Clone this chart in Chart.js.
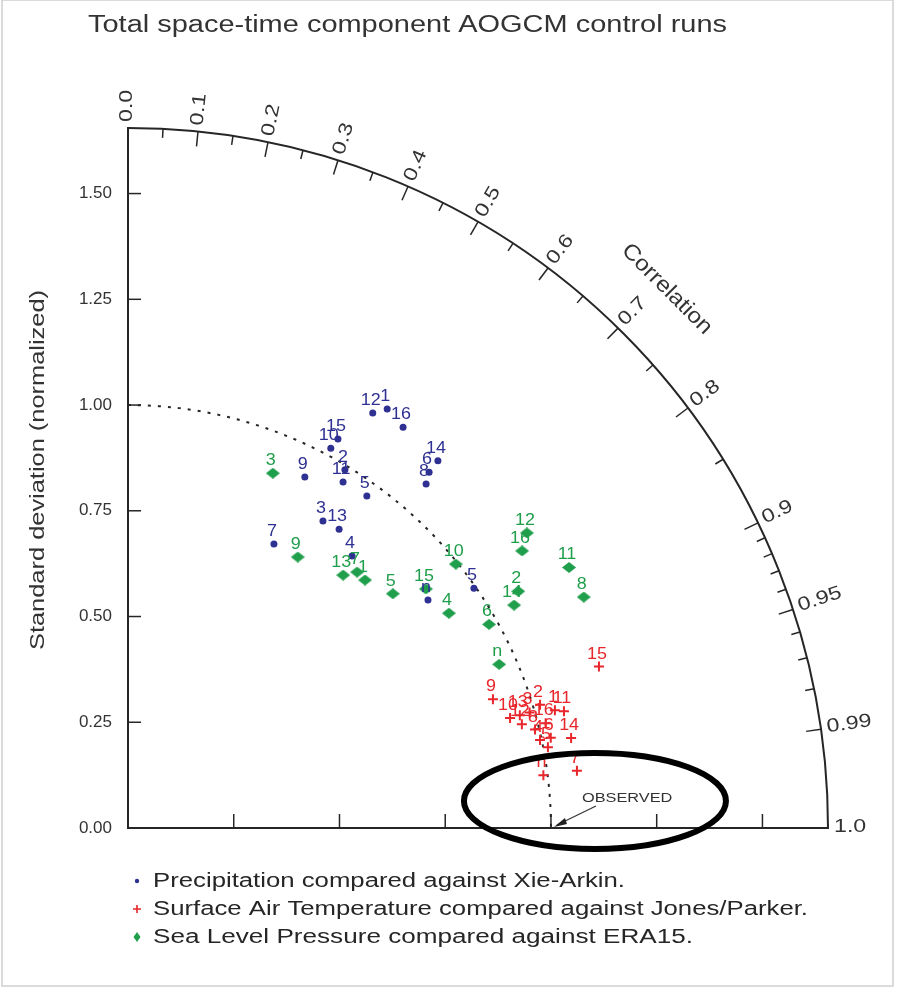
<!DOCTYPE html>
<html>
<head>
<meta charset="utf-8">
<script src="https://cdn.jsdelivr.net/npm/chart.js@4.4.0/dist/chart.umd.min.js"></script>
<style>
  html, body { margin: 0; padding: 0; background: #fff; }
  canvas { display: block; }
</style>
</head>
<body>
<canvas id="taylor" width="899" height="989"></canvas>
<script>
// axis values
var maxSd = 1.655;
var sdTicks = [0, 0.25, 0.5, 0.75, 1.0, 1.25, 1.5];
var xTicks = [0.25, 0.5, 0.75, 1.0, 1.25, 1.5];
var corrLabels = ['0.0', '0.1', '0.2', '0.3', '0.4', '0.5', '0.6', '0.7', '0.8', '0.9', '0.95', '0.99', '1.0'];
var corrMinor = [0.05, 0.15, 0.25, 0.35, 0.45, 0.55, 0.65, 0.75, 0.85, 0.91, 0.92, 0.93, 0.94, 0.96, 0.97, 0.98];

// Precipitation vs Xie-Arkin
var precipModels = ['12', '1', '16', '15', '10', '9', '2', '11', '5', '14', '6', '8', '3', '13', '7', '4', 'n', '5'];
var precipSd =   [1.139, 1.165, 1.149, 1.045, 1.018, 0.929, 0.990, 0.963, 0.967, 1.136, 1.102, 1.076, 0.860, 0.865, 0.755, 0.833, 0.891, 0.995];
var precipCorr = [0.508, 0.526, 0.566, 0.475, 0.471, 0.450, 0.518, 0.528, 0.584, 0.645, 0.646, 0.655, 0.536, 0.577, 0.457, 0.636, 0.796, 0.822];

// Surface air temperature vs Jones/Parker
var satModels = ['15', '9', '14', '7', 'n', '10', '13', '3', '12', '2', '1', '11', '16', '8', '4', '6', '5'];
var satSd =   [1.177, 0.915, 1.069, 1.070, 0.990, 0.940, 0.964, 0.988, 0.963, 1.017, 1.047, 1.067, 1.018, 0.990, 0.996, 1.022, 1.011];
var satCorr = [0.946, 0.943, 0.980, 0.992, 0.992, 0.961, 0.961, 0.961, 0.967, 0.958, 0.964, 0.966, 0.970, 0.972, 0.978, 0.978, 0.982];

// Sea level pressure vs ERA15
var slpModels = ['3', '9', '13', '7', '1', '5', '15', '4', '10', '12', '16', '11', '8', '2', '14', '6', 'n'];
var slpSd =   [0.906, 0.756, 0.785, 0.812, 0.811, 0.836, 0.903, 0.913, 0.995, 1.173, 1.139, 1.211, 1.208, 1.079, 1.054, 0.980, 0.959];
var slpCorr = [0.378, 0.531, 0.648, 0.667, 0.691, 0.749, 0.780, 0.831, 0.779, 0.804, 0.818, 0.861, 0.892, 0.855, 0.866, 0.871, 0.915];

var legendTexts = ['Precipitation compared against Xie-Arkin.',
                   'Surface Air Temperature compared against Jones/Parker.',
                   'Sea Level Pressure compared against ERA15.'];

var BLUE = '#2f3192', RED = '#e8262b', GREEN = '#1f9e4b', INK = '#262626';
var FONT = '"Liberation Sans", Arial, Helvetica, sans-serif';

// polar (sd, corr) -> cartesian points
function toPoints(sd, corr) {
  return sd.map(function(s, i) {
    var r = corr[i];
    return { x: s * r, y: s * Math.sqrt(1 - r * r) };
  });
}

function diamond(color, w, h) {
  var c = document.createElement('canvas');
  c.width = w; c.height = h;
  var g = c.getContext('2d');
  g.fillStyle = color;
  g.beginPath();
  g.moveTo(w / 2, 0); g.lineTo(w, h / 2); g.lineTo(w / 2, h); g.lineTo(0, h / 2);
  g.closePath(); g.fill();
  return c;
}

// text stretched horizontally (the source lettering is wide)
function wideText(ctx, text, x, y, sx) {
  ctx.save();
  ctx.translate(x, y);
  ctx.scale(sx, 1);
  ctx.fillText(text, 0, 0);
  ctx.restore();
}

var taylorFrame = {
  id: 'taylorFrame',
  beforeDatasetsDraw: function(chart) {
    var ctx = chart.ctx;
    var xs = chart.scales.x, ys = chart.scales.y;
    var cx = xs.getPixelForValue(0), cy = ys.getPixelForValue(0);
    var rad = xs.getPixelForValue(maxSd) - cx;
    var r1 = xs.getPixelForValue(1) - cx;

    ctx.save();
    ctx.strokeStyle = INK;
    ctx.lineWidth = 2;

    // outer correlation arc
    ctx.beginPath();
    ctx.arc(cx, cy, rad, -Math.PI / 2, 0);
    ctx.stroke();

    // dotted reference arc (sd = 1)
    ctx.save();
    ctx.setLineDash([3, 7]);
    ctx.beginPath();
    ctx.arc(cx, cy, r1, -Math.PI / 2, 0);
    ctx.stroke();
    ctx.restore();

    // inward ticks on the sd axes
    ctx.lineWidth = 1.5;
    sdTicks.forEach(function(v) {
      if (v === 0) return;
      var py = ys.getPixelForValue(v);
      ctx.beginPath(); ctx.moveTo(cx, py); ctx.lineTo(cx + 13, py); ctx.stroke();
    });
    xTicks.forEach(function(v) {
      var px = xs.getPixelForValue(v);
      ctx.beginPath(); ctx.moveTo(px, cy); ctx.lineTo(px, cy - 14); ctx.stroke();
    });

    // correlation ticks
    function radTick(r, len) {
      var t = Math.acos(r);
      ctx.beginPath();
      ctx.moveTo(cx + rad * Math.cos(t), cy - rad * Math.sin(t));
      ctx.lineTo(cx + (rad - len) * Math.cos(t), cy - (rad - len) * Math.sin(t));
      ctx.stroke();
    }
    corrLabels.forEach(function(l) {
      var r = parseFloat(l);
      if (r > 0 && r < 1) radTick(r, 15);
    });
    corrMinor.forEach(function(r) { radTick(r, 9); });

    // correlation labels, radial, sitting on the ray
    ctx.fillStyle = '#333';
    ctx.font = '19px ' + FONT;
    ctx.textAlign = 'left';
    ctx.textBaseline = 'alphabetic';
    corrLabels.forEach(function(l) {
      var t = Math.acos(parseFloat(l));
      ctx.save();
      ctx.translate(cx + (rad + 6) * Math.cos(t), cy - (rad + 6) * Math.sin(t));
      ctx.rotate(-t);
      wideText(ctx, l, 0, 4, 1.22);
      ctx.restore();
    });

    // "Correlation" title along the arc
    var tc = Math.PI / 4;
    ctx.save();
    ctx.translate(cx + (rad + 62) * Math.cos(tc), cy - (rad + 62) * Math.sin(tc));
    ctx.rotate(Math.PI / 2 - tc);
    ctx.font = '22px ' + FONT;
    ctx.textAlign = 'center';
    ctx.textBaseline = 'middle';
    wideText(ctx, 'Correlation', 0, 0, 1.1);
    ctx.restore();

    // y axis title
    ctx.save();
    ctx.translate(38, 470);
    ctx.rotate(-Math.PI / 2);
    ctx.font = '20px ' + FONT;
    ctx.textAlign = 'center';
    ctx.textBaseline = 'middle';
    wideText(ctx, 'Standard deviation (normalized)', 0, 0, 1.27);
    ctx.restore();

    ctx.restore();
  },
  afterDatasetsDraw: function(chart) {
    var ctx = chart.ctx;
    var xs = chart.scales.x, ys = chart.scales.y;
    var names = [precipModels, satModels, slpModels];
    var colors = [BLUE, RED, GREEN];

    ctx.save();
    ctx.font = '16px ' + FONT;
    ctx.textAlign = 'center';
    ctx.textBaseline = 'alphabetic';
    chart.data.datasets.forEach(function(ds, di) {
      var meta = chart.getDatasetMeta(di);
      ctx.fillStyle = colors[di];
      meta.data.forEach(function(el, i) {
        wideText(ctx, names[di][i], el.x - 2, el.y - 8, 1.12);
      });
    });

    // OBSERVED annotation
    var ox = xs.getPixelForValue(1), oy = ys.getPixelForValue(0);
    ctx.save();
    ctx.font = '12px ' + FONT;
    ctx.fillStyle = '#333';
    ctx.textAlign = 'left';
    wideText(ctx, 'OBSERVED', 582, 802, 1.36);
    ctx.restore();
    ctx.strokeStyle = '#333';
    ctx.lineWidth = 1.2;
    ctx.beginPath(); ctx.moveTo(596, 806); ctx.lineTo(ox + 6, oy - 3); ctx.stroke();
    ctx.fillStyle = '#222';
    ctx.beginPath();
    ctx.moveTo(ox + 3, oy - 1);
    ctx.lineTo(ox + 14, oy - 10);
    ctx.lineTo(ox + 16, oy - 4);
    ctx.closePath(); ctx.fill();

    // highlight ellipse
    ctx.strokeStyle = '#000';
    ctx.lineWidth = 6;
    ctx.beginPath();
    ctx.ellipse(xs.getPixelForValue(1.104), ys.getPixelForValue(0.064), 131, 48, 0, 0, Math.PI * 2);
    ctx.stroke();
    ctx.restore();
  },
  afterDraw: function(chart) {
    var ctx = chart.ctx;
    ctx.save();
    ctx.textBaseline = 'middle';
    ctx.textAlign = 'left';

    // title
    ctx.fillStyle = '#333';
    ctx.font = '23px ' + FONT;
    var tw = ctx.measureText('Total space-time component AOGCM control runs').width;
    wideText(ctx, 'Total space-time component AOGCM control runs', 88, 26, 639 / tw);

    // legend
    var rows = [881, 909, 937];
    var widths = [472, 655, 540];
    ctx.font = '20px ' + FONT;
    ctx.fillStyle = INK;
    legendTexts.forEach(function(t, i) {
      wideText(ctx, t, 153, rows[i], widths[i] / ctx.measureText(t).width);
    });
    ctx.fillStyle = BLUE;
    ctx.beginPath(); ctx.arc(137, rows[0], 2.2, 0, Math.PI * 2); ctx.fill();
    ctx.strokeStyle = RED; ctx.lineWidth = 1.6;
    ctx.beginPath();
    ctx.moveTo(133, rows[1]); ctx.lineTo(141, rows[1]);
    ctx.moveTo(137, rows[1] - 4); ctx.lineTo(137, rows[1] + 4);
    ctx.stroke();
    ctx.fillStyle = GREEN;
    ctx.beginPath();
    ctx.moveTo(137, rows[2] - 5); ctx.lineTo(140.5, rows[2]); ctx.lineTo(137, rows[2] + 5); ctx.lineTo(133.5, rows[2]);
    ctx.closePath(); ctx.fill();

    // picture frame
    ctx.strokeStyle = '#cfcfcf';
    ctx.lineWidth = 1.5;
    ctx.strokeRect(2, 0, 891, 986);
    ctx.restore();
  }
};

var axisFont = { family: FONT, size: 17 };

new Chart(document.getElementById('taylor').getContext('2d'), {
  type: 'scatter',
  data: {
    datasets: [{
      label: legendTexts[0],
      data: toPoints(precipSd, precipCorr),
      pointStyle: 'circle',
      pointRadius: 3.5,
      backgroundColor: BLUE,
      borderColor: BLUE,
      borderWidth: 0
    }, {
      label: legendTexts[1],
      data: toPoints(satSd, satCorr),
      pointStyle: 'cross',
      pointRadius: 5,
      borderColor: RED,
      borderWidth: 2
    }, {
      label: legendTexts[2],
      data: toPoints(slpSd, slpCorr),
      pointStyle: diamond(GREEN, 14, 11),
      pointRadius: 6
    }]
  },
  options: {
    responsive: false,
    animation: false,
    layout: { padding: { top: 128, right: 71, left: 0, bottom: 0 } },
    plugins: {
      legend: { display: false },
      tooltip: { enabled: false },
      title: { display: false }
    },
    scales: {
      x: {
        type: 'linear', min: 0, max: maxSd,
        grid: { display: false, drawTicks: false },
        border: { display: true, color: INK, width: 2 },
        ticks: { display: false },
        afterFit: function(s) { s.height = 161; }
      },
      y: {
        type: 'linear', min: 0, max: maxSd,
        afterBuildTicks: function(s) { s.ticks = sdTicks.map(function(v) { return { value: v }; }); },
        grid: { display: false, drawTicks: false },
        border: { display: true, color: INK, width: 2 },
        ticks: {
          font: axisFont, color: '#333', padding: 16,
          callback: function(v) { return v.toFixed(2); }
        },
        title: { display: false },
        afterFit: function(s) { s.width = 128; }
      }
    }
  },
  plugins: [taylorFrame]
});
</script>
</body>
</html>
